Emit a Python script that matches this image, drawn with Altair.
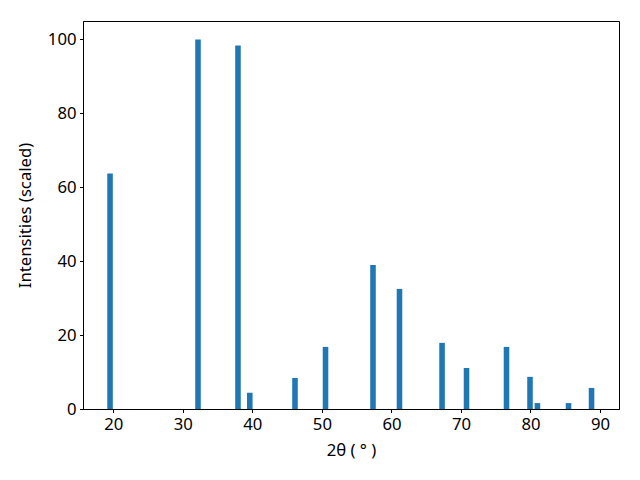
import altair as alt
import pandas as pd

two_theta = [19.53, 32.18, 37.93, 39.63, 46.13, 50.52, 57.35, 61.16, 67.28, 70.80,
             76.55, 79.93, 81.00, 85.47, 88.78]
intensity = [63.7, 100.0, 98.4, 4.4, 8.4, 16.8, 39.0, 32.5, 17.9, 11.1,
             16.8, 8.7, 1.6, 1.6, 5.7]
bar_width = 0.8
x_ticks = [20, 30, 40, 50, 60, 70, 80, 90]
y_ticks = [0, 20, 40, 60, 80, 100]

df = pd.DataFrame({"theta": two_theta, "intensity": intensity})

font = "Noto Sans"
fs = 16.7

chart = (
    alt.Chart(df)
    .transform_calculate(
        x0=f"datum.theta - {bar_width / 2}",
        x1=f"datum.theta + {bar_width / 2}",
    )
    .mark_rect(color="#1f77b4")
    .encode(
        x=alt.X(
            "x0:Q",
            scale=alt.Scale(domain=[15.64, 92.73], nice=False, zero=False),
            axis=alt.Axis(
                values=x_ticks,
                title="2θ ( ° )",
                grid=False,
                tickSize=3.5,
                labelPadding=3.5,
                labelFontSize=fs,
                titleFontSize=fs,
                titleFontWeight="normal",
                labelFont=font,
                titleFont=font,
                domainColor="black",
                tickColor="black",
                labelColor="black",
                titleColor="black",
                titlePadding=10,
            ),
        ),
        x2="x1:Q",
        y=alt.Y(
            "intensity:Q",
            scale=alt.Scale(domain=[0, 105.0], nice=False),
            axis=alt.Axis(
                values=y_ticks,
                title="Intensities (scaled)",
                grid=False,
                tickSize=3.5,
                labelPadding=3.5,
                labelFontSize=fs,
                titleFontSize=fs,
                titleFontWeight="normal",
                labelFont=font,
                titleFont=font,
                domainColor="black",
                tickColor="black",
                labelColor="black",
                titleColor="black",
                titlePadding=13,
            ),
        ),
        y2=alt.datum(0),
    )
    .properties(
        width=536,
        height=388,
        autosize=alt.AutoSizeParams(type="none"),
        padding={"left": 75, "top": 13, "right": 13, "bottom": 63},
    )
    .configure_view(stroke="black", strokeWidth=1)
    .configure_axis(domainWidth=1, tickWidth=1)
)

chart.save("out.html", embed_options={"renderer": "svg", "actions": False})
